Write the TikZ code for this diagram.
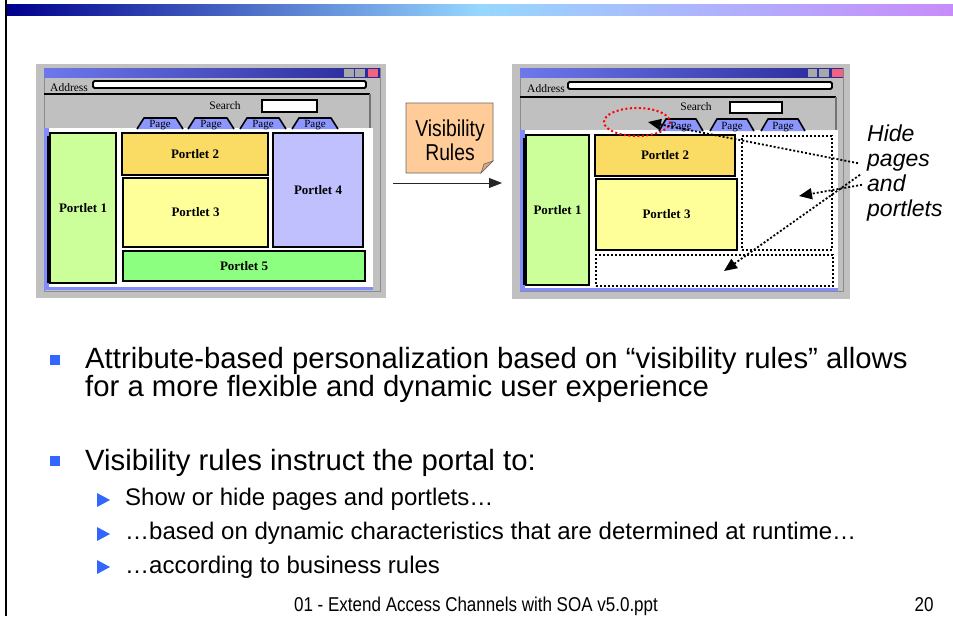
\documentclass[tikz,border=0pt]{standalone}
\usepackage{fontspec}
\setmainfont{Liberation Sans}
\newfontfamily\notefont[FakeStretch=0.84]{Liberation Sans}
\newfontfamily\footfont[FakeStretch=0.85]{Liberation Sans}
\newfontfamily\winfont{Liberation Serif}
\usetikzlibrary{arrows.meta}

\definecolor{barnavy}{RGB}{0,0,140}
\definecolor{barsky}{RGB}{150,215,255}
\definecolor{barviolet}{RGB}{200,140,250}
\definecolor{wingray}{RGB}{192,192,192}
\definecolor{titleL}{RGB}{110,120,235}
\definecolor{titleR}{RGB}{40,40,150}
\definecolor{btngray}{RGB}{168,168,168}
\definecolor{btnred}{RGB}{240,100,130}
\definecolor{tabblue}{RGB}{140,150,255}
\definecolor{edgeblue}{RGB}{130,140,255}
\definecolor{pone}{RGB}{204,255,153}
\definecolor{ptwo}{RGB}{250,220,100}
\definecolor{pthree}{RGB}{255,255,153}
\definecolor{pfour}{RGB}{192,192,255}
\definecolor{pfive}{RGB}{140,255,128}
\definecolor{notefill}{RGB}{255,204,153}
\definecolor{notefold}{RGB}{215,165,120}
\definecolor{bulletblue}{RGB}{51,102,255}

\newcommand\tightlines{\lineskiplimit=-30pt\relax}

\tikzset{
  winframe/.style={fill=wingray, draw=black!45, line width=0.8pt},
  field/.style={fill=white, draw=black, line width=1.8pt},
  tabshape/.style={fill=tabblue, draw=black, line width=1.6pt, line join=round},
  portlet/.style={draw=black, line width=2pt, inner sep=0pt,
    font=\winfont\bfseries\fontsize{13}{13}\selectfont},
  hiddenbox/.style={draw=black, line width=2pt, dash pattern=on 2pt off 2pt,
    inner sep=0pt},
  winlabel/.style={inner sep=0pt, font=\winfont\fontsize{11.5}{12}\selectfont},
  pagelabel/.style={inner sep=0pt, font=\winfont\fontsize{11}{11}\selectfont},
  pointer/.style={line width=1.8pt, dash pattern=on 2pt off 2pt,
    -{Triangle[length=13pt,width=11pt]}},
  bodyline/.style={anchor=base west, inner sep=0pt, align=left,
    font=\fontsize{29.3}{27.5}\selectfont\tightlines},
  subline/.style={anchor=base west, inner sep=0pt,
    font=\fontsize{24}{24}\selectfont},
  hideline/.style={anchor=base west, inner sep=0pt,
    font=\itshape\fontsize{23}{25}\selectfont},
  squarebullet/.style={fill=bulletblue, draw=none, minimum size=10pt, inner sep=0pt},
}

\begin{document}
\begin{tikzpicture}[x=1pt,y=-1pt]
\useasboundingbox (0,0) rectangle (953,616);
\fill[white] (0,0) rectangle (953,616);

% slide decoration: gradient bar and left rule
\shade[left color=barnavy, right color=barviolet, middle color=barsky]
  (7,4) rectangle (953,15);
\draw[line width=2pt] (6,0) -- (6,616);

% ---------------- portal page, all portlets shown ----------------
\fill[wingray] (36,64) rectangle (386,298);
\draw[winframe] (44,68) rectangle (380,291);
\shade[left color=titleL, right color=titleR] (44,68) rectangle (380,77);
\fill[btngray] (344,69) rectangle (354,77);
\fill[btngray] (355,69) rectangle (365,77);
\fill[btnred]  (368,69) rectangle (378,77);
\node[winlabel, anchor=base west] (addrL) at (50,91) {Address};
\draw[field, rounded corners=1.5pt] (93,81) rectangle (366,88);
\draw[line width=2pt] (44,94) -- (370,94);
\draw[black!55, line width=1.2pt] (370,94) -- (370,130);
\node[winlabel] (searchL) at (225,106) {Search};
\draw[field] (262,100) rectangle (317,112);
\fill[edgeblue] (44,128) rectangle (373,290);
\fill[white] (49,128) rectangle (373,287);
\foreach \c/\n in {160/1,211/2,263/3,315/4}{
  \path[tabshape] (\c-23,129) -- (\c-16,118) -- (\c+16,118) -- (\c+23,129);
  \node[pagelabel] (tabL\n) at (\c,125.5) {Page};
}
\draw[line width=2pt] (48,136) -- (48,283);
\node[portlet, fill=pone,   minimum width=66pt,  minimum height=150pt] (pL1) at (83,208)    {Portlet 1};
\node[portlet, fill=ptwo,   minimum width=146pt, minimum height=42pt]  (pL2) at (195,154)   {Portlet 2};
\node[portlet, fill=pthree, minimum width=145pt, minimum height=69pt]  (pL3) at (195.5,212.5) {Portlet 3};
\node[portlet, fill=pfour,  minimum width=90pt,  minimum height=114pt] (pL4) at (318,190)   {Portlet 4};
\node[portlet, fill=pfive,  minimum width=242pt, minimum height=30pt]  (pL5) at (244,266)   {Portlet 5};

% ---------------- visibility rules note and arrow ----------------
\filldraw[fill=notefill, draw=black!60, line width=0.6pt]
  (406,103) -- (493,103) -- (493,161) -- (481,173) -- (406,173) -- cycle;
\filldraw[fill=notefold, draw=black!60, line width=0.6pt]
  (493,161) -- (481,173) -- (484,164) -- cycle;
\node[inner sep=0pt, align=center, font=\notefont\fontsize{23}{24}\selectfont]
  (rules) at (450,140) {Visibility\\Rules};
\coordinate (flowA) at (393,183);
\coordinate (flowB) at (502,183);
\draw[line width=0.8pt, black!85, -{Triangle[length=13pt,width=10pt]}] (flowA) -- (flowB);

% ---------------- portal page after applying the rules ----------------
\fill[wingray] (512,64) rectangle (850,299);
\draw[winframe] (520,68) rectangle (843,291);
\shade[left color=titleL, right color=titleR] (520,68) rectangle (843,77);
\fill[btngray] (808,69) rectangle (817,77);
\fill[btngray] (819,69) rectangle (829,77);
\fill[btnred]  (832,69) rectangle (843,77);
\node[winlabel, anchor=base west] (addrR) at (527,92) {Address};
\draw[field, rounded corners=1.5pt] (568,82) rectangle (832,89);
\draw[line width=2pt] (520,97) -- (836,97);
\draw[black!55, line width=1.2pt] (836,97) -- (836,130);
\node[winlabel] (searchR) at (696,107) {Search};
\draw[field] (730,102) rectangle (782,113);
\fill[edgeblue] (520,130) rectangle (838,291);
\fill[white] (525,130) rectangle (838,288);
\foreach \c/\n in {681/1,732/2,783/3}{
  \path[tabshape] (\c-22,131) -- (\c-15,119) -- (\c+15,119) -- (\c+22,131);
  \node[pagelabel] (tabR\n) at (\c,127) {Page};
}
\draw[line width=2pt] (524,138) -- (524,285);
\node[portlet, fill=pone,   minimum width=63pt,  minimum height=150pt] (pR1) at (557.5,210)   {Portlet 1};
\node[portlet, fill=ptwo,   minimum width=140pt, minimum height=41pt]  (pR2) at (665,155.5)   {Portlet 2};
\node[portlet, fill=pthree, minimum width=141pt, minimum height=71pt]  (pR3) at (666.5,214.5) {Portlet 3};
\node[hiddenbox, minimum width=90pt,  minimum height=114pt] (gone4) at (787,193) {};
\node[hiddenbox, minimum width=237pt, minimum height=31pt]  (gone5) at (714.5,270.5) {};
\draw[red, line width=2pt, dash pattern=on 2pt off 2.5pt]
  (637,122) ellipse [x radius=33, y radius=14];
\coordinate (goneTab) at (637,122);

% ---------------- callout ----------------
\node[hideline] (hideA) at (867,141) {Hide};
\node[hideline] (hideB) at (867,166) {pages};
\node[hideline] (hideC) at (867,191) {and};
\node[hideline] (hideD) at (867,216) {portlets};
\coordinate (tipTab) at (648,122);
\coordinate (tipRight) at (799,196);
\coordinate (tipBottom) at (724,271);
\draw[pointer] ([xshift=-9pt,yshift=-1pt]hideB.west) -- (tipTab);
\draw[pointer] ([xshift=-5pt,yshift=-2pt]hideC.west) -- (tipRight);
\draw[pointer] ([xshift=-7pt,yshift=8pt]hideC.west) -- (tipBottom);

% ---------------- bullet text ----------------
\node[squarebullet] (b1) at (55,360) {};
\node[bodyline] (t1) at (85,396) {Attribute-based personalization based on “visibility rules” allows\\for a more flexible and dynamic user experience};
\node[squarebullet] (b2) at (55,461) {};
\node[bodyline] (t2) at (85,470) {Visibility rules instruct the portal to:};
\foreach \y/\n in {500/1,534/2,567/3}{
  \fill[bulletblue] (97,\y-7) -- (110,\y) -- (97,\y+7) -- cycle;
}
\node[subline] (s1) at (125,505) {Show or hide pages and portlets…};
\node[subline] (s2) at (125,539) {…based on dynamic characteristics that are determined at runtime…};
\node[subline] (s3) at (125,573) {…according to business rules};

% ---------------- footer ----------------
\node[inner sep=0pt, anchor=base, font=\footfont\fontsize{20}{20}\selectfont]
  (foot) at (476,611) {01 - Extend Access Channels with SOA v5.0.ppt};
\node[inner sep=0pt, anchor=base, font=\footfont\fontsize{20}{20}\selectfont]
  (pageno) at (924,611) {20};
\end{tikzpicture}
\end{document}
